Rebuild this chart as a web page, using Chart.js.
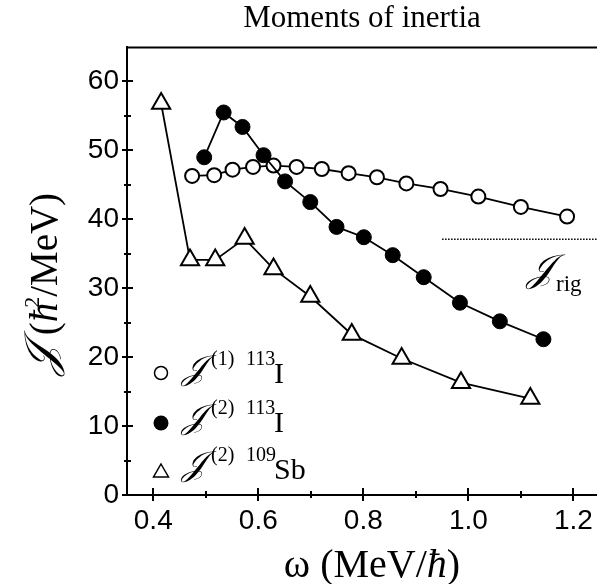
<!DOCTYPE html>
<html><head><meta charset="utf-8">
<script src="https://cdn.jsdelivr.net/npm/chart.js@4.4.0/dist/chart.umd.min.js"></script>
<style>html,body{margin:0;padding:0;background:#fff}canvas{display:block}</style>
</head><body>
<canvas id="c" width="597" height="584"></canvas>
<script>
// ---- data ----
const omegaJ1I113  = [0.474,0.516,0.551,0.590,0.629,0.673,0.721,0.772,0.826,0.882,0.947,1.019,1.100,1.188];
const valuesJ1I113 = [46.3,46.4,47.2,47.6,47.8,47.6,47.3,46.7,46.1,45.2,44.4,43.3,41.8,40.4];
const omegaJ2I113  = [0.497,0.534,0.570,0.610,0.651,0.699,0.749,0.801,0.856,0.915,0.984,1.060,1.143];
const valuesJ2I113 = [49.0,55.5,53.4,49.3,45.5,42.5,38.9,37.4,34.8,31.6,27.9,25.2,22.6];
const omegaJ2Sb109  = [0.415,0.470,0.518,0.574,0.629,0.699,0.778,0.873,0.986,1.118];
const valuesJ2Sb109 = [56.8,34.1,34.1,37.2,32.8,28.8,23.3,19.8,16.3,14.0];
const rigidOmega = [0.95,1.245];
const rigidValue = [37.1,37.1];
const majorXTicks = [0.4,0.6,0.8,1.0,1.2];
const minorXTicks = [0.5,0.7,0.9,1.1];
const majorYTicks = [0,10,20,30,40,50,60];
const minorYTicks = [5,15,25,35,45,55];
const titleText = 'Moments of inertia';

const SERIF = '"Liberation Serif","Times New Roman",serif';
const SANS = '"Liberation Sans",Arial,sans-serif';
const SCRIPT = '"DejaVu Serif","DejaVu Sans",serif';
const J = '\u{1D4A5}';

const pts = (xs, ys) => xs.map((x, i) => ({x, y: ys[i]}));
const isIn = (arr, v) => arr.some(m => Math.abs(m - v) < 1e-9);

function runs(ctx, items) {
  items.forEach(it => { ctx.font = it.font; ctx.fillText(it.text, it.x, it.y); });
}
function seq(ctx, items, x, y, align) {
  let total = 0;
  items.forEach(it => { ctx.font = it.font; it.w = ctx.measureText(it.text).width; total += it.w + (it.dx || 0); });
  let cx = align === 'center' ? x - total / 2 : x;
  items.forEach(it => { ctx.font = it.font; cx += (it.dx || 0); ctx.fillText(it.text, cx, y + (it.dy || 0)); cx += it.w; });
}

const decor = {
  id: 'decor',
  afterDraw(chart) {
    const ctx = chart.ctx, xs = chart.scales.x, ys = chart.scales.y, a = chart.chartArea;
    ctx.save();
    ctx.strokeStyle = '#000'; ctx.fillStyle = '#000'; ctx.lineWidth = 2;
    // top frame line
    ctx.beginPath(); ctx.moveTo(a.left, a.top + 0.5); ctx.lineTo(a.right, a.top + 0.5); ctx.stroke();
    // tick marks crossing the axes
    xs.ticks.forEach(t => {
      const p = Math.round(xs.getPixelForValue(t.value));
      const maj = isIn(majorXTicks, t.value);
      ctx.beginPath(); ctx.moveTo(p, a.bottom - (maj ? 7 : 4)); ctx.lineTo(p, a.bottom + (maj ? 6 : 3)); ctx.stroke();
    });
    ys.ticks.forEach(t => {
      const p = Math.round(ys.getPixelForValue(t.value));
      const maj = isIn(majorYTicks, t.value);
      ctx.beginPath(); ctx.moveTo(a.left - (maj ? 5 : 3), p); ctx.lineTo(a.left + (maj ? 6 : 4), p); ctx.stroke();
    });
    ctx.textBaseline = 'alphabetic'; ctx.textAlign = 'left';
    // legend
    const lx = 161;
    ctx.lineWidth = 1.5;
    ctx.beginPath(); ctx.arc(lx, 373, 6.5, 0, Math.PI * 2); ctx.fillStyle = '#fff'; ctx.fill(); ctx.stroke();
    ctx.fillStyle = '#000';
    ctx.beginPath(); ctx.arc(lx, 423, 7.5, 0, Math.PI * 2); ctx.fill();
    ctx.beginPath(); ctx.moveTo(lx, 464); ctx.lineTo(lx + 7.5, 477); ctx.lineTo(lx - 7.5, 477); ctx.closePath(); ctx.stroke();
    const rows = [
      {y: 383, s1: '(1)', s2: '113', m: 'I'},
      {y: 432, s1: '(2)', s2: '113', m: 'I'},
      {y: 479, s1: '(2)', s2: '109', m: 'Sb'}
    ];
    rows.forEach(r => {
      runs(ctx, [
        {text: J, font: 'italic 34px ' + SCRIPT, x: 182, y: r.y - 4},
        {text: r.s1, font: '20px ' + SERIF, x: 211, y: r.y - 18},
        {text: r.s2, font: '20px ' + SERIF, x: 246, y: r.y - 18},
        {text: r.m, font: '30px ' + SERIF, x: 274, y: r.y}
      ]);
    });
    // rigid label
    runs(ctx, [
      {text: J, font: 'italic 38px ' + SCRIPT, x: 527, y: 281},
      {text: 'rig', font: '23px ' + SERIF, x: 556, y: 291}
    ]);
    // x axis title
    seq(ctx, [
      {text: '\u03C9 (MeV/', font: '40px ' + SERIF},
      {text: '\u0127', font: 'italic 40px ' + SERIF},
      {text: ')', font: '40px ' + SERIF}
    ], 372, 577, 'center');
    // y axis title
    ctx.translate(57, 284); ctx.rotate(-Math.PI / 2);
    seq(ctx, [
      {text: J, font: 'italic 44px ' + SCRIPT, dy: -2},
      {text: ' (', font: '39px ' + SERIF},
      {text: '\u0127', font: 'italic 39px ' + SERIF},
      {text: '2', font: '22px ' + SERIF, dy: -18, dx: -5},
      {text: '/MeV)', font: '39px ' + SERIF}
    ], 0, 0, 'center');
    ctx.restore();
  }
};

const ds = (label, xs, ys, extra) => Object.assign({
  label, data: pts(xs, ys), borderColor: '#000', borderWidth: 1.8,
  pointBorderColor: '#000', showLine: true, tension: 0
}, extra);

new Chart(document.getElementById('c'), {
  type: 'scatter',
  data: {
    datasets: [
      ds('rigid', rigidOmega, rigidValue, {borderWidth: 1.5, borderDash: [1.5, 1.5], pointRadius: 0}),
      ds('J2 109Sb', omegaJ2Sb109, valuesJ2Sb109, {pointStyle: 'triangle', pointRadius: 10.5, pointBackgroundColor: '#fff', pointBorderWidth: 2}),
      ds('J2 113I', omegaJ2I113, valuesJ2I113, {pointStyle: 'circle', pointRadius: 7.5, pointBackgroundColor: '#000', pointBorderWidth: 1}),
      ds('J1 113I', omegaJ1I113, valuesJ1I113, {pointStyle: 'circle', pointRadius: 7, pointBackgroundColor: '#fff', pointBorderWidth: 2})
    ]
  },
  options: {
    responsive: false, animation: false, devicePixelRatio: 1,
    layout: {autoPadding: false, padding: {left: 0, right: 0, top: 0, bottom: 0}},
    plugins: {
      legend: {display: false}, tooltip: {enabled: false},
      title: {display: true, text: titleText, fullSize: false, color: '#000',
        font: {family: SERIF, size: 31, weight: 'normal'}, padding: {top: 0, bottom: 9.8}}
    },
    scales: {
      x: {
        type: 'linear', min: 0.35, max: 1.245,
        afterBuildTicks: s => { s.ticks = [...majorXTicks, ...minorXTicks].sort((a, b) => a - b).map(v => ({value: v})); },
        afterFit: s => { s.height = 89; s.paddingLeft = 0; s.paddingRight = 0; },
        grid: {display: false, drawTicks: false}, border: {display: true, color: '#000', width: 2},
        ticks: {color: '#000', padding: 9, maxRotation: 0, autoSkip: false, font: {family: SANS, size: 28},
          callback: v => isIn(majorXTicks, v) ? v.toFixed(1) : ''}
      },
      y: {
        type: 'linear', min: 0, max: 65,
        afterBuildTicks: s => { s.ticks = [...majorYTicks, ...minorYTicks].sort((a, b) => a - b).map(v => ({value: v})); },
        afterFit: s => { s.width = 127; s.paddingTop = 0; s.paddingBottom = 0; },
        grid: {display: false, drawTicks: false}, border: {display: true, color: '#000', width: 2},
        ticks: {color: '#000', padding: 8, autoSkip: false, font: {family: SANS, size: 28},
          callback: v => isIn(majorYTicks, v) ? String(v) : ''}
      }
    }
  },
  plugins: [decor]
});
</script>
</body></html>
